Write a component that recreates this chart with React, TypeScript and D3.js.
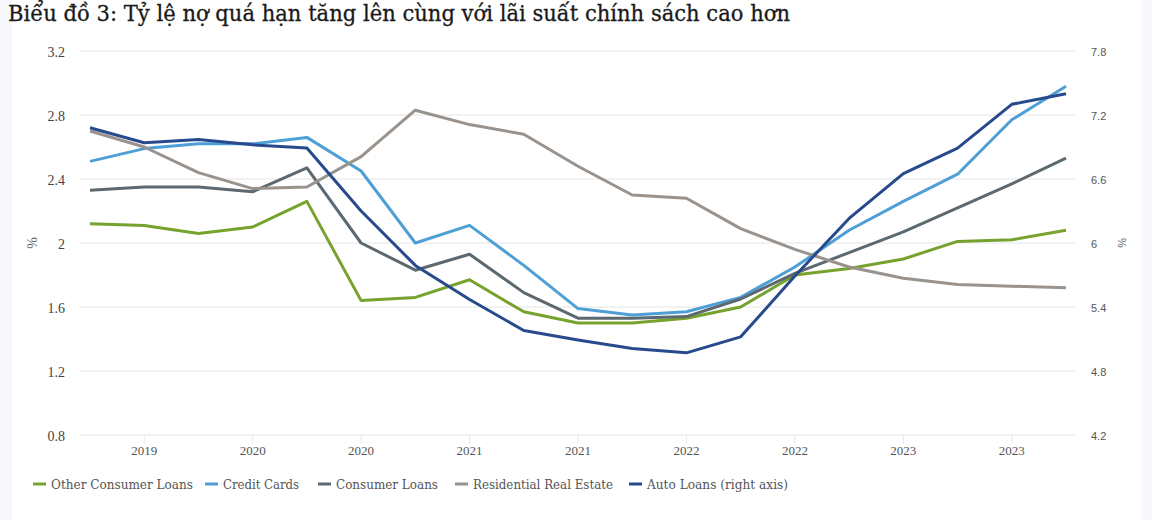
import React from "react";
import * as d3 from "d3";

const xLabels = ["2018","2019","2019","2020","2020","2020","2020","2021","2021","2021","2021","2022","2022","2022","2022","2023","2023","2023","2023"];
const tickIdx = [1,3,5,7,9,11,13,15,17];

const otherConsumer = [2.12,2.11,2.06,2.10,2.26,1.64,1.66,1.77,1.57,1.50,1.50,1.53,1.60,1.80,1.84,1.90,2.01,2.02,2.08];
const creditCards = [2.51,2.59,2.62,2.62,2.66,2.45,2.00,2.11,1.86,1.59,1.55,1.57,1.66,1.85,2.08,2.26,2.43,2.77,2.98];
const consumerLoans = [2.33,2.35,2.35,2.32,2.47,2.00,1.83,1.93,1.69,1.53,1.53,1.54,1.65,1.81,1.94,2.07,2.22,2.37,2.53];
const residential = [2.70,2.60,2.44,2.34,2.35,2.54,2.83,2.74,2.68,2.48,2.30,2.28,2.09,1.96,1.85,1.78,1.74,1.73,1.72];
const autoLoans = [7.08,6.94,6.97,6.92,6.89,6.30,5.79,5.47,5.18,5.09,5.01,4.97,5.12,5.69,6.23,6.65,6.89,7.30,7.40];

const leftTicks = [0.8,1.2,1.6,2,2.4,2.8,3.2];
const rightTicks = [4.2,4.8,5.4,6,6.6,7.2,7.8];

const seriesNames = ["Other Consumer Loans","Credit Cards","Consumer Loans","Residential Real Estate","Auto Loans (right axis)"];
const seriesColors = ["#76a22e","#4e9fd6","#5d6970","#9a938d","#264a8b"];
const title = "Biểu đồ 3: Tỷ lệ nợ quá hạn tăng lên cùng với lãi suất chính sách cao hơn";

export default function App() {
  const W = 1152, H = 520;
  const x = d3.scalePoint<number>().domain(d3.range(xLabels.length)).range([90, 1066]);
  const yL = d3.scaleLinear().domain([0.8, 3.2]).range([435, 51]);
  const yR = d3.scaleLinear().domain([4.2, 7.8]).range([435, 51]);
  const lineL = d3.line<number>().x((_, i) => x(i)!).y(d => yL(d));
  const lineR = d3.line<number>().x((_, i) => x(i)!).y(d => yR(d));
  const data = [otherConsumer, creditCards, consumerLoans, residential];
  const legendX = [33, 205, 318, 455, 629];
  const legendW = [142, 76, 102, 140, 141];
  return (
    <svg width={W} height={H} style={{ position: "absolute", left: 0, top: 0, display: "block" }}>
      <rect x={0} y={0} width={W} height={H} fill="#f7f8fc" />
      <rect x={12} y={0} width={1130} height={H} fill="#ffffff" />
      <text x={8} y={20.5} fontFamily="DejaVu Serif" fontSize={21.5} fill="#1a1a1a" stroke="#1a1a1a" strokeWidth={0.3} textLength={782} lengthAdjust="spacingAndGlyphs">{title}</text>
      {leftTicks.map(t => (
        <line key={t} x1={80} x2={1075} y1={yL(t)} y2={yL(t)} stroke="#e5e5e5" strokeWidth={1} />
      ))}
      {tickIdx.map(i => (
        <line key={i} x1={x(i)} x2={x(i)} y1={435} y2={444} stroke="#e8e8e8" strokeWidth={1} />
      ))}
      {leftTicks.map(t => (
        <text key={t} x={65} y={yL(t) + 5.5} textAnchor="end" fontFamily="Liberation Serif" fontSize={14} fill="#444">{String(t)}</text>
      ))}
      {rightTicks.map(t => (
        <text key={t} x={1091} y={yR(t) + 4.5} textAnchor="start" fontFamily="Liberation Sans" fontSize={11} fill="#555">{String(t)}</text>
      ))}
      {tickIdx.map(i => (
        <text key={i} x={x(i)} y={454.5} textAnchor="middle" fontFamily="Liberation Serif" fontSize={13} fill="#555">{xLabels[i]}</text>
      ))}
      <text transform={`translate(37,243) rotate(-90)`} textAnchor="middle" fontFamily="Liberation Serif" fontSize={14} fill="#666">%</text>
      <text transform={`translate(1118,243) rotate(90)`} textAnchor="middle" fontFamily="Liberation Sans" fontSize={11} fill="#666">%</text>
      {data.map((s, k) => (
        <path key={k} d={lineL(s)!} fill="none" stroke={seriesColors[k]} strokeWidth={3} strokeLinejoin="round" />
      ))}
      <path d={lineR(autoLoans)!} fill="none" stroke={seriesColors[4]} strokeWidth={3} strokeLinejoin="round" />
      {seriesNames.map((n, k) => (
        <g key={n}>
          <line x1={legendX[k]} x2={legendX[k] + 13} y1={484} y2={484} stroke={seriesColors[k]} strokeWidth={3} />
          <text x={legendX[k] + 18} y={488.5} fontFamily="DejaVu Serif Condensed" fontSize={12.5} fill="#555" textLength={legendW[k]} lengthAdjust="spacingAndGlyphs">{n}</text>
        </g>
      ))}
    </svg>
  );
}
